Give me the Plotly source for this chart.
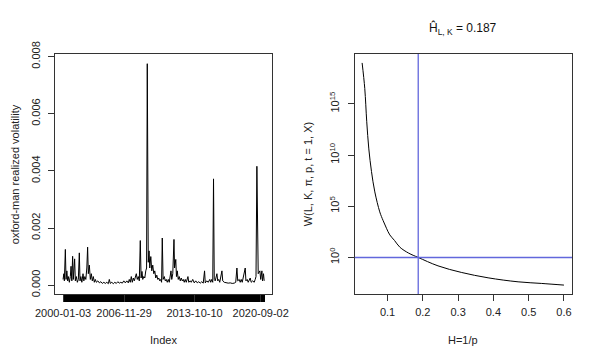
"""Realized volatility series and the W(L, K, pi, p) curve, side by side."""
import plotly.graph_objects as go
from plotly.subplots import make_subplots

rv_index = [
    1, 23, 37, 64, 83, 105, 127, 146, 173, 200, 220, 241, 263, 282, 318, 337, 364, 392, 419, 446,
    465, 487, 515, 547, 569, 597, 624, 651, 673, 692, 720, 747, 774, 801, 829, 856, 883, 911, 952, 993,
    1034, 1075, 1116, 1157, 1198, 1239, 1266, 1293, 1334, 1375, 1416, 1457, 1498, 1539, 1580, 1621, 1662, 1703, 1744, 1785,
    1812, 1840, 1867, 1894, 1922, 1949, 2004, 2031, 2058, 2086, 2113, 2135, 2159, 2181, 2208, 2236, 2263, 2285, 2304, 2318,
    2331, 2353, 2372, 2400, 2427, 2454, 2482, 2509, 2536, 2564, 2591, 2618, 2646, 2673, 2695, 2714, 2736, 2769, 2796, 2823,
    2851, 2878, 2905, 2952, 2973, 3001, 3034, 3050, 3083, 3102, 3124, 3151, 3178, 3206, 3233, 3260, 3288, 3315, 3342, 3370,
    3416, 3438, 3479, 3506, 3547, 3588, 3629, 3670, 3711, 3752, 3793, 3834, 3870, 3889, 3930, 3971, 4012, 4039, 4066, 4094,
    4115, 4135, 4162, 4208, 4230, 4257, 4285, 4345, 4367, 4408, 4462, 4517, 4572, 4626, 4681, 4722, 4755, 4777, 4818, 4845,
    4872, 4900, 4982, 5001, 5036, 5063, 5118, 5145, 5186, 5227, 5255, 5277, 5301, 5318, 5337, 5383, 5405, 5438, 5454, 5482,
    5500,
]
rv_1e4 = [
    2, 4, 1.5, 12.5, 2, 5, 1.5, 3, 1, 3, 6.6, 1.5, 10.1, 2, 9.2, 1.5, 3, 1, 2, 11.3,
    1.5, 3, 1, 4, 1.5, 3, 2, 6, 13.3, 4, 7, 2, 4, 1.5, 3, 1, 2, 1, 1.5, 0.8,
    1.2, 0.6, 1, 0.6, 1, 0.5, 2, 0.6, 1, 0.5, 1, 0.6, 1.2, 0.7, 1, 0.7, 1.5, 0.8, 1.5, 0.8,
    2, 1, 3, 1, 2.5, 1.5, 4, 2, 3, 1.5, 15.6, 2.5, 4.8, 2, 3, 2.5, 5, 6, 77.5, 30.5,
    8, 12, 6, 10, 5, 7, 4, 5, 2.5, 3.5, 2, 2.5, 1.5, 2, 1, 16.5, 2, 3, 1.5, 2,
    1, 2, 1, 5, 2, 4, 16, 6, 9, 3, 5, 2, 3, 1.5, 2.5, 1.5, 2, 1, 2, 1,
    3, 1, 1.5, 1, 2, 0.8, 1.5, 0.8, 1.2, 0.7, 1.2, 0.7, 5, 0.8, 1.5, 1, 2, 1, 2, 1,
    37.2, 2, 1.5, 4, 1.5, 2, 1, 5, 1.5, 1, 0.8, 0.7, 0.8, 0.6, 0.7, 1, 6, 1.5, 2, 1,
    2, 1, 6, 1.5, 2, 1, 2.5, 1, 1.5, 1, 2, 3, 41.6, 8, 4, 5, 2, 5, 1.5, 4,
    1.5,
]
rv = [v * 1e-4 for v in rv_1e4]
n_obs = 5500
date_ticks = [1, 1670, 3596, 5405]
date_labels = ["2000-01-03", "2006-11-29", "2013-10-10", "2020-09-02"]

# right panel: H = 1/p against log10 W(L, K, pi, p, t=1, X)
h_vals = [0.028, 0.0355, 0.041, 0.047, 0.0545, 0.064, 0.078, 0.0875, 0.097, 0.1065,
          0.12, 0.135, 0.16, 0.187, 0.243, 0.309, 0.385, 0.47, 0.537, 0.6]
log_w = [19.0, 16.5, 13.3, 10.6, 8.4, 6.4, 4.45, 3.6, 2.85, 2.2,
         1.65, 1.0, 0.42, 0.0, -0.82, -1.46, -1.99, -2.38, -2.54, -2.7]
h_hat = 0.187

FONT = "Liberation Sans, Arial, sans-serif"
BOX = "#333333"
BLUE = "#6267dc"

fig = make_subplots(rows=1, cols=2, horizontal_spacing=0.1597)

fig.add_trace(
    go.Scatter(x=rv_index, y=rv, mode="lines", line=dict(color="black", width=1),
               showlegend=False, hoverinfo="skip"),
    row=1, col=1,
)
fig.add_trace(
    go.Scatter(x=h_vals, y=[10 ** v for v in log_w], mode="lines",
               line=dict(color="black", width=1, shape="spline"),
               showlegend=False, hoverinfo="skip"),
    row=1, col=2,
)

# estimate markers: H-hat and W = 1
fig.add_shape(type="line", xref="x2", yref="y2 domain", x0=h_hat, x1=h_hat, y0=0, y1=1,
              line=dict(color=BLUE, width=1.3), layer="above")
fig.add_shape(type="line", xref="x2 domain", yref="y2", x0=0, x1=1, y0=1, y1=1,
              line=dict(color=BLUE, width=1.5), layer="above")

axis_common = dict(
    showline=True, mirror=True, linecolor=BOX, linewidth=1,
    ticks="outside", tickcolor=BOX, showgrid=False, zeroline=False,
    tickfont=dict(family=FONT, size=11, color="#222"),
)

fig.update_xaxes(
    range=[-219, 5720], tickmode="array", tickvals=date_ticks, ticktext=date_labels,
    minor=dict(tickmode="array", tickvals=list(range(1, n_obs + 1, 12)),
               ticks="outside", ticklen=7, tickcolor="black", tickwidth=1),
    ticklen=7, ticklabelstandoff=2, **axis_common, row=1, col=1,
)
fig.update_yaxes(
    range=[-0.00031, 0.00809], tickvals=[0, 0.002, 0.004, 0.006, 0.008],
    tickformat=".3f", tickangle=-90, ticklen=6, ticklabelstandoff=4,
    **axis_common, row=1, col=1,
)
fig.update_xaxes(
    range=[0.0072, 0.6228], tickvals=[0.1, 0.2, 0.3, 0.4, 0.5, 0.6],
    ticktext=["0.1", "0.2", "0.3", "0.4", "0.5", "0.6"], ticklen=6, ticklabelstandoff=2,
    **axis_common, row=1, col=2,
)
fig.update_yaxes(
    type="log", range=[-3.57, 19.87], tickvals=[1, 1e5, 1e10, 1e15],
    ticktext=["10<sup>0</sup>", "10<sup>5</sup>", "10<sup>10</sup>", "10<sup>15</sup>"],
    tickangle=-90, ticklen=6, ticklabelstandoff=4, **axis_common, row=1, col=2,
)

label_font = dict(family=FONT, size=11, color="#222")
fig.add_annotation(text="Index", x=0.21, y=-0.193, xref="paper", yref="paper",
                   xanchor="center", yanchor="middle", showarrow=False, font=label_font)
fig.add_annotation(text="H=1/p", x=0.79, y=-0.193, xref="paper", yref="paper",
                   xanchor="center", yanchor="middle", showarrow=False, font=label_font)
fig.add_annotation(text="oxford-man realized volatility", x=-0.077, y=0.5,
                   xref="paper", yref="paper", xanchor="center", yanchor="middle",
                   textangle=-90, showarrow=False, font=label_font)
fig.add_annotation(text="W(L, K, \u03c0, p, t = 1, X)", x=0.49, y=0.5,
                   xref="paper", yref="paper", xanchor="center", yanchor="middle",
                   textangle=-90, showarrow=False, font=label_font)
fig.add_annotation(text="\u0124<sub>L, K</sub> = 0.187", x=0.79, y=1.105, xref="paper",
                   yref="paper", xanchor="center", yanchor="middle", showarrow=False,
                   font=dict(family=FONT, size=12, color="#111"))

# the page adds an 8px body margin, so the figure is drawn 8px smaller and shifted
fig.update_layout(
    width=592, height=354,
    margin=dict(l=46.5, r=28.3, t=46, b=68.3),
    paper_bgcolor="white", plot_bgcolor="white",
    font=dict(family=FONT, color="#222"),
)

fig.write_html("out.html")
